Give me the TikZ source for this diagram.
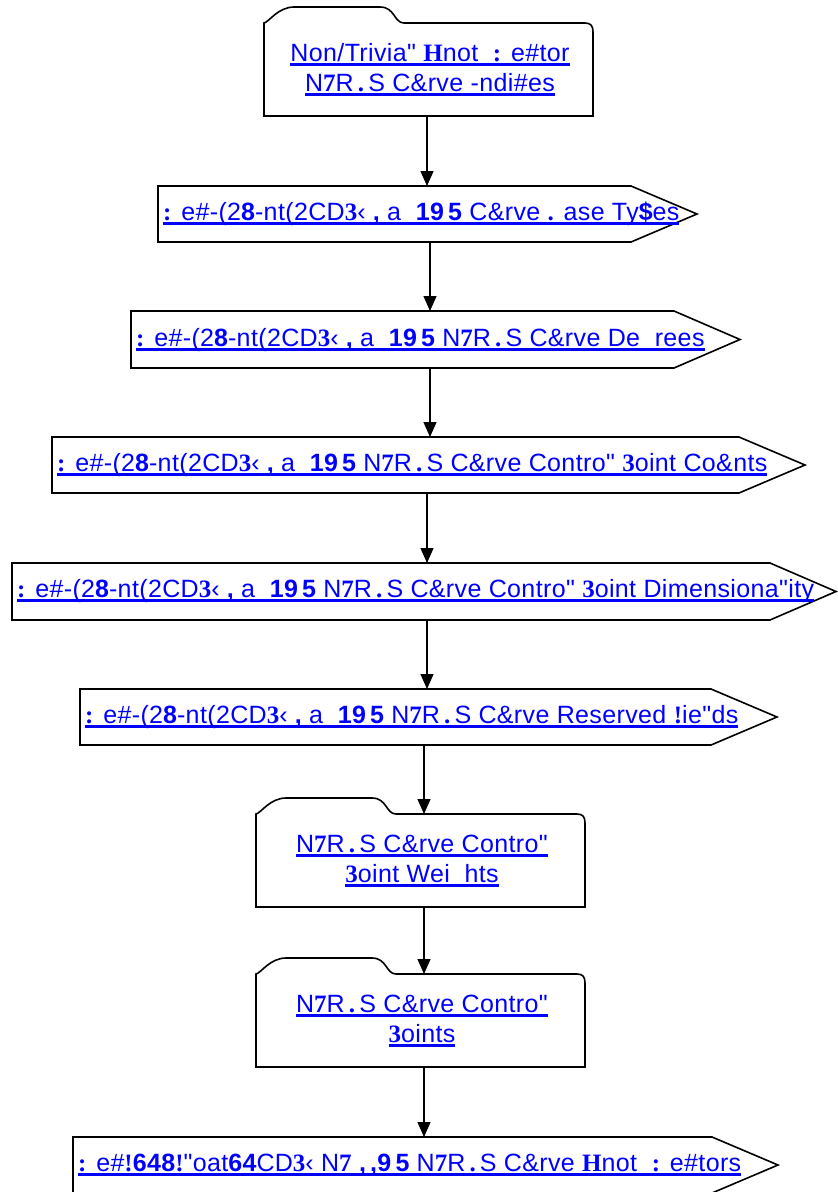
\documentclass[tikz,border=0pt]{standalone}
\usepackage{fontspec}
\setmainfont{Liberation Sans}[Ligatures=TeXOff, LetterSpace=1.5]
\newfontfamily\glyphfont{Liberation Serif}[Ligatures=TeXOff]
\usetikzlibrary{arrows.meta}
\definecolor{linkblue}{RGB}{0,0,255}
% heavy serif glyphs and bold sans glyphs mixed into the labels
\newcommand\gl[1]{{\glyphfont\bfseries #1}}
\newcommand\gb[1]{{\bfseries #1}}
% thick link-style underline under one line of text
\newcommand\ul[1]{\setbox0\hbox{#1}\leavevmode\rlap{\vrule height -2pt depth 5pt width \wd0}\box0}
\newcommand\nrs{N\gl{7}R\,\gl{.}\,S C\&rve}
\newcommand\fieldpre{\gl{:} e\#-(2\gb{8}-nt(2CD\gl{3}‹ \gb{,} a\ \ \gb{19}\,\gb{5}}
% outline of a card with a tab on its upper left
\newcommand\tabpath[1]{%
  \draw[outline] (#1.south west) -- (#1.north west)
    .. controls ([shift={(5,-1)}]#1.north west) and ([shift={(14,-16)}]#1.north west) .. ([shift={(30,-16)}]#1.north west)
    -- ([shift={(116,-16)}]#1.north west)
    .. controls ([shift={(131,-16)}]#1.north west) and ([shift={(130,0)}]#1.north west) .. ([shift={(140,0)}]#1.north west)
    -- ([shift={(-8,0)}]#1.north east)
    .. controls ([shift={(-2,0)}]#1.north east) and ([shift={(0,3)}]#1.north east) .. ([shift={(0,9)}]#1.north east)
    -- (#1.south east) -- cycle;}
% outline of a box pointing to the right
\newcommand\pentpath[1]{%
  \draw[outline] (#1.north west) -- (#1.north east) -- ([xshift=66pt]#1.east)
    -- (#1.south east) -- (#1.south west) -- cycle;}
\tikzset{
  body/.style={rectangle, draw=none, inner sep=0pt, outer sep=0pt, anchor=north west},
  outline/.style={draw=black, line width=1.6pt, line join=miter},
  lbl/.style={inner sep=0pt, text=linkblue, font=\fontsize{25}{30}\selectfont},
  arr/.style={line width=1.3pt, -{Triangle[length=15pt,width=13pt]}},
}
\begin{document}
\begin{tikzpicture}[x=1pt,y=-1pt]
\useasboundingbox (0,0) rectangle (838,1192);

% shape bodies
\node[body, minimum width=329, minimum height=93] (n1) at (264,23) {};
\node[body, minimum width=473, minimum height=56] (n2) at (158,186) {};
\node[body, minimum width=543, minimum height=57] (n3) at (131,311) {};
\node[body, minimum width=687, minimum height=56] (n4) at (52,437) {};
\node[body, minimum width=758, minimum height=57] (n5) at (12,563) {};
\node[body, minimum width=631, minimum height=56] (n6) at (80,689) {};
\node[body, minimum width=329, minimum height=93] (n7) at (256,814) {};
\node[body, minimum width=329, minimum height=93] (n8) at (256,974) {};
\node[body, minimum width=639, minimum height=56] (n9) at (73,1137) {};

\tabpath{n1}
\pentpath{n2}
\pentpath{n3}
\pentpath{n4}
\pentpath{n5}
\pentpath{n6}
\tabpath{n7}
\tabpath{n8}
\pentpath{n9}

% labels
\node[lbl, anchor=base] (t1a) at (430,61) {\ul{Non/Trivia" \gl{H}not\ \ \gl{:} e\#tor}};
\node[lbl, anchor=base] (t1b) at (430,91) {\ul{\nrs\ -ndi\#es}};
\node[lbl, anchor=base west] (t2) at (163,220) {\ul{\fieldpre\ C\&rve \gl{.} ase Ty\gb{\$}es}};
\node[lbl, anchor=base west] (t3) at (136,346) {\ul{\fieldpre\ \nrs\ De\ \ rees}};
\node[lbl, anchor=base west] (t4) at (57,471) {\ul{\fieldpre\ \nrs\ Contro" \gl{3}oint Co\&nts}};
\node[lbl, anchor=base west] (t5) at (17,597) {\ul{\fieldpre\ \nrs\ Contro" \gl{3}oint Dimensiona"ity}};
\node[lbl, anchor=base west] (t6) at (85,723) {\ul{\fieldpre\ \nrs\ Reserved \gl{!}ie"ds}};
\node[lbl, anchor=base] (t7a) at (422,852) {\ul{\nrs\ Contro"}};
\node[lbl, anchor=base] (t7b) at (422,882) {\ul{\gl{3}oint Wei\ \ hts}};
\node[lbl, anchor=base] (t8a) at (422,1012) {\ul{\nrs\ Contro"}};
\node[lbl, anchor=base] (t8b) at (422,1042) {\ul{\gl{3}oints}};
\node[lbl, anchor=base west] (t9) at (78,1171) {\ul{\gl{:} e\#\gl{!}\gb{648}\gl{!}"oat\gb{64}CD\gl{3}‹ N\gl{7} \gb{,}\,\gb{,}\gb{9}\,\gb{5} \nrs\ \gl{H}not\ \ \gl{:} e\#tors}};

% connectors
\draw[arr] (n1.south -| 427,0) -- (n2.north -| 427,0);
\draw[arr] (n2.south -| 430,0) -- (n3.north -| 430,0);
\draw[arr] (n3.south -| 430,0) -- (n4.north -| 430,0);
\draw[arr] (n4.south -| 427,0) -- (n5.north -| 427,0);
\draw[arr] (n5.south -| 427,0) -- (n6.north -| 427,0);
\draw[arr] (n6.south -| 424,0) -- (n7.north -| 424,0);
\draw[arr] (n7.south -| 424,0) -- (n8.north -| 424,0);
\draw[arr] (n8.south -| 424,0) -- (n9.north -| 424,0);
\end{tikzpicture}
\end{document}
